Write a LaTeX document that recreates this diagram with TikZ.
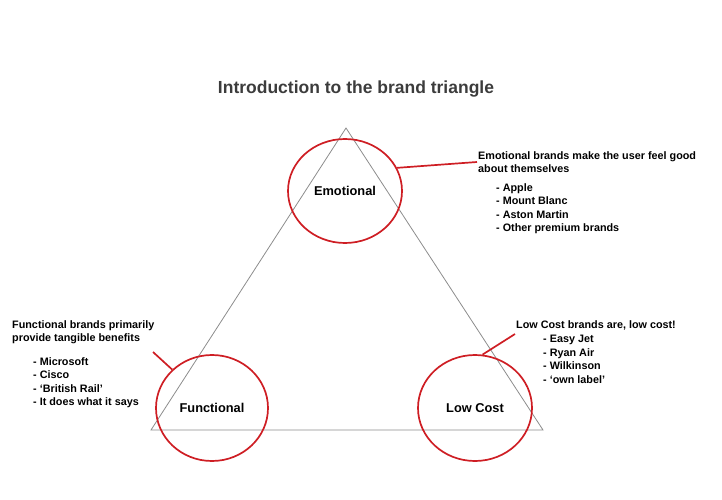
\documentclass[tikz,border=0pt]{standalone}
\usepackage{fontspec}
\setmainfont{Liberation Sans}
\usetikzlibrary{shapes.geometric}
\definecolor{ringred}{RGB}{206,30,36}
\definecolor{edgegray}{RGB}{140,140,140}
\definecolor{titlegray}{RGB}{60,60,60}
\begin{document}
\begin{tikzpicture}[x=1pt, y=-1pt,
  ring/.style={draw=ringred, line width=1.7pt, ellipse, inner sep=0pt,
    font=\fontsize{12.8}{14}\selectfont\bfseries},
  link/.style={draw=ringred, line width=1.7pt},
  note/.style={anchor=north west, inner sep=0pt, align=left,
    font=\fontsize{10.8}{13.5}\selectfont\bfseries}]
  \useasboundingbox (0,0) rectangle (722,500);
  \node[font=\fontsize{17.5}{19}\selectfont\bfseries, text=titlegray] (title) at (356,89) {Introduction to the brand triangle};
  % triangle
  \coordinate (top) at (346,128);
  \coordinate (bl) at (151,430);
  \coordinate (br) at (543,430);
  \draw[edgegray, line width=0.8pt] (top) -- (bl) -- (br) -- cycle;
  % emotional
  \node[ring, minimum width=114pt, minimum height=104pt] (emo) at (345,191) {Emotional};
  \node[note] (emohead) at (478,151) {Emotional brands make the user feel good\\about themselves};
  \node[note] (emolist) at (496,183) {- Apple\\- Mount Blanc\\- Aston Martin\\- Other premium brands};
  \coordinate (emoend) at (477,162);
  \draw[link] (emo.24) -- (emoend);
  % functional
  \node[ring, minimum width=112pt, minimum height=106pt] (func) at (212,408) {Functional};
  \node[note] (funchead) at (12,320) {Functional brands primarily\\provide tangible benefits};
  \node[note] (funclist) at (33,357) {- Microsoft\\- Cisco\\- ‘British Rail’\\- It does what it says};
  \coordinate (funcend) at (153,352);
  \draw[link] (func.136) -- (funcend);
  % low cost
  \node[ring, minimum width=114pt, minimum height=106pt] (low) at (475,408) {Low Cost};
  \node[note] (lowhead) at (516,320) {Low Cost brands are, low cost!};
  \node[note] (lowlist) at (543,335) {- Easy Jet\\- Ryan Air\\- Wilkinson\\- ‘own label’};
  \coordinate (lowend) at (515,334);
  \draw[link] (low.82) -- (lowend);
\end{tikzpicture}
\end{document}
